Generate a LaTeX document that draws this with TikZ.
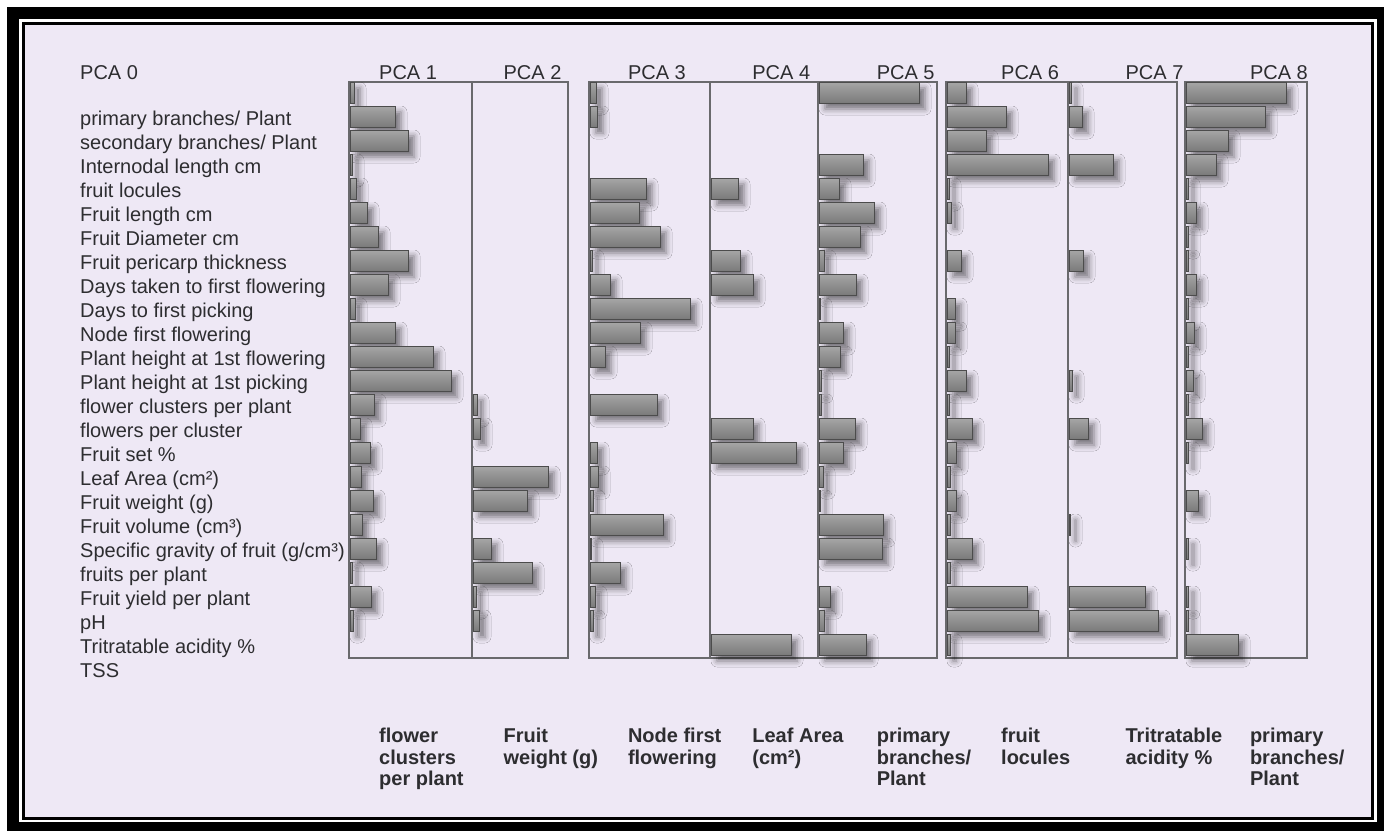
\documentclass[tikz,border=0pt]{standalone}
\usepackage{fontspec}
\setmainfont{Liberation Sans}
\usetikzlibrary{shadows.blur}
\definecolor{lavender}{RGB}{238,232,245}
\definecolor{boxline}{RGB}{105,105,108}
\definecolor{inktext}{RGB}{45,45,48}

\begin{document}
\begin{tikzpicture}[x=1pt,y=-1pt,
  bar/.style={draw=black!70, line width=0.7pt, top color=black!35, bottom color=black!52,
    blur shadow={shadow xshift=6pt, shadow yshift=-6pt, shadow blur radius=6pt, shadow opacity=50}},
  panel/.style={draw=boxline, line width=1.5pt},
  rowlabel/.style={anchor=base west, inner sep=0pt, text=inktext, font=\fontsize{20}{21.5}\selectfont},
  head/.style={rowlabel},
  foot/.style={rowlabel, anchor=north west, align=left, execute at begin node=\strut,
    font=\fontsize{20}{21.5}\selectfont\bfseries}]
\useasboundingbox (0,0) rectangle (1384,831);
% frame
\fill[black] (7,7) rectangle (1384,831);
\fill[white] (19,19) rectangle (1377,822);
\fill[black] (22,22) rectangle (1374,820);
\fill[lavender] (25,25) rectangle (1371,817);

% panels
\draw[panel] (349,82) rectangle (568,658);
\draw[panel] (472,82)--(472,658);
\draw[panel] (589,82) rectangle (937,658);
\draw[panel] (710,82)--(710,658);
\draw[panel] (818,82)--(818,658);
\draw[panel] (946,82) rectangle (1177,658);
\draw[panel] (1068,82)--(1068,658);
\draw[panel] (1185,82) rectangle (1307,658);

% PCA 1
\foreach \s/\l in {0/4,1/45,2/58,3/2,4/6,5/17,6/28,7/58,8/38,9/5,10/45,11/83,12/101,13/24,14/10,15/20,16/11,17/23,18/12,19/26,20/2,21/21,22/3}
  \path[bar] (350,82+24*\s) rectangle ++(\l,21);
% PCA 2
\foreach \s/\l in {13/4,14/7,16/75,17/54,19/18,20/59,21/3,22/6}
  \path[bar] (473,82+24*\s) rectangle ++(\l,21);
% PCA 3
\foreach \s/\l in {0/6,1/7,4/56,5/49,6/70,7/2,8/20,9/100,10/50,11/15,13/67,15/7,16/8,17/3,18/73,19/1,20/30,21/5,22/3}
  \path[bar] (590,82+24*\s) rectangle ++(\l,21);
% PCA 4
\foreach \s/\l in {4/27,7/29,8/42,14/42,15/85,23/80}
  \path[bar] (711,82+24*\s) rectangle ++(\l,21);
% PCA 5
\foreach \s/\l in {0/100,3/44,4/20,5/55,6/41,7/5,8/37,9/1,10/24,11/21,12/2,13/2,14/36,15/24,16/4,17/1,18/64,19/63,21/11,22/5,23/47}
  \path[bar] (819,82+24*\s) rectangle ++(\l,21);
% PCA 6
\foreach \s/\l in {0/19,1/59,2/39,3/101,4/2,5/4,7/14,9/8,10/8,11/2,12/19,13/2,14/25,15/9,16/3,17/9,18/3,19/25,20/3,21/80,22/91,23/3}
  \path[bar] (947,82+24*\s) rectangle ++(\l,21);
% PCA 7
\foreach \s/\l in {0/2,1/13,3/44,7/14,12/3,14/19,18/1,21/76,22/89}
  \path[bar] (1069,82+24*\s) rectangle ++(\l,21);
% PCA 8
\foreach \s/\l in {0/100,1/79,2/42,3/30,4/2,5/10,6/2,7/2,8/10,9/2,10/8,11/2,12/7,13/2,14/16,15/2,17/12,19/2,21/2,22/2,23/52}
  \path[bar] (1186,82+24*\s) rectangle ++(\l,21);

% labels
\node[head] (pca0) at (80,79) {PCA 0};
\foreach \k in {1,...,8}
  \node[head] (pca\k) at (379+124.4*\k-124.4,79) {PCA \k};
\foreach \t [count=\i from 0] in {primary branches/ Plant, secondary branches/ Plant,
    Internodal length cm, fruit locules, Fruit length cm, Fruit Diameter cm,
    Fruit pericarp thickness, Days taken to first flowering, Days to first picking,
    Node first flowering, Plant height at 1st flowering, Plant height at 1st picking,
    flower clusters per plant, flowers per cluster, Fruit set \%, Leaf Area (cm²),
    Fruit weight (g), Fruit volume (cm³), Specific gravity of fruit (g/cm³),
    fruits per plant, Fruit yield per plant, pH, Tritratable acidity \%, TSS}
  \node[rowlabel] (row\i) at (80,125+24*\i) {\t};
\foreach \t [count=\k from 0] in {{flower\\clusters\\per plant}, {Fruit\\weight (g)},
    {Node first\\flowering}, {Leaf Area\\(cm²)}, {primary\\branches/\\Plant},
    {fruit\\locules}, {Tritratable\\acidity \%}, {primary\\branches/\\Plant}}
  \node[foot] (foot\k) at (379+124.4*\k,728) {\t};
\end{tikzpicture}
\end{document}
